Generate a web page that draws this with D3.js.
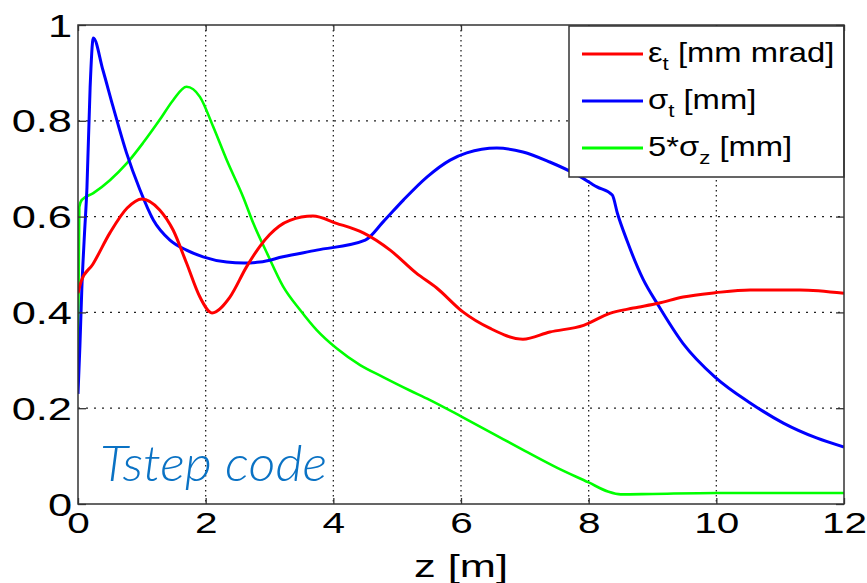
<!DOCTYPE html>
<html><head><meta charset="utf-8">
<script src="https://cdn.jsdelivr.net/npm/d3@7/dist/d3.min.js"></script>
<style>
html,body{margin:0;padding:0;background:#fff;}
svg{display:block;}
</style></head>
<body>
<svg id="chart" width="867" height="583"></svg>
<script>
// ---- data ----
const xTicks = [0, 2, 4, 6, 8, 10, 12];
const yTicks = [0, 0.2, 0.4, 0.6, 0.8, 1];
const yTickLabels = ["0", "0.2", "0.4", "0.6", "0.8", "1"];
const xTickLabels = ["0", "2", "4", "6", "8", "10", "12"];

const emitZ = [0, 0.05, 0.23, 0.5, 0.77, 1.0, 1.28, 1.49, 1.7, 1.91, 2.1, 2.38, 2.64, 2.85, 3.0, 3.15, 3.32, 3.68, 4.05, 4.47, 4.89, 5.3, 5.62, 6.03, 6.45, 6.97, 7.39, 7.92, 8.33, 8.7, 9.09, 9.48, 9.98, 10.53, 11.31, 12];
const emitVal = [0.44, 0.465, 0.5, 0.566, 0.618, 0.637, 0.614, 0.572, 0.503, 0.432, 0.399, 0.432, 0.495, 0.538, 0.562, 0.58, 0.592, 0.601, 0.586, 0.566, 0.53, 0.482, 0.451, 0.401, 0.367, 0.344, 0.359, 0.373, 0.398, 0.409, 0.419, 0.432, 0.441, 0.447, 0.447, 0.44];

const sigtZ = [0, 0.03, 0.06, 0.1, 0.14, 0.19, 0.24, 0.39, 0.55, 0.76, 0.97, 1.18, 1.44, 1.7, 1.96, 2.33, 2.6, 2.85, 3.21, 3.74, 4.5, 4.78, 5.1, 5.47, 5.83, 6.09, 6.56, 6.97, 7.39, 7.82, 8.13, 8.37, 8.45, 8.6, 8.85, 9.09, 9.48, 9.98, 10.53, 11.05, 11.57, 12];
const sigtVal = [0.23, 0.33, 0.45, 0.56, 0.66, 0.87, 0.973, 0.906, 0.829, 0.733, 0.656, 0.593, 0.551, 0.53, 0.516, 0.505, 0.503, 0.505, 0.516, 0.53, 0.551, 0.589, 0.635, 0.683, 0.718, 0.733, 0.743, 0.735, 0.714, 0.687, 0.662, 0.645, 0.607, 0.55, 0.47, 0.415, 0.335, 0.265, 0.211, 0.169, 0.138, 0.119];

const sigzZ = [0, 0.02, 0.06, 0.24, 0.5, 0.77, 1.02, 1.28, 1.49, 1.7, 1.91, 2.12, 2.33, 2.59, 2.75, 2.96, 3.21, 3.48, 3.74, 4.05, 4.42, 4.78, 5.2, 5.5, 6.0, 6.5, 7.0, 7.5, 8.0, 8.3, 8.5, 9, 10, 11, 12];
const sigzVal = [0.31, 0.62, 0.635, 0.649, 0.676, 0.712, 0.754, 0.802, 0.843, 0.871, 0.85, 0.787, 0.718, 0.64, 0.585, 0.524, 0.455, 0.405, 0.363, 0.325, 0.29, 0.265, 0.237, 0.218, 0.183, 0.147, 0.111, 0.076, 0.045, 0.026, 0.02, 0.021, 0.023, 0.023, 0.023];

const seriesNames = ["ε", "σ", "5*σ"];
const seriesSubs = ["t", "t", "z"];
const seriesUnits = [" [mm mrad]", " [mm]", " [mm]"];
const seriesColors = ["#ff0000", "#0000ff", "#00ff00"];

// ---- layout ----
const svg = d3.select("#chart");
const L = 78, R = 844, T = 25, B = 504;
const x = d3.scaleLinear().domain([0, 12]).range([L, R]);
const y = d3.scaleLinear().domain([0, 1]).range([B, T]);
const FONT = "'Liberation Sans', Arial, Helvetica, sans-serif";

svg.append("rect").attr("width", 867).attr("height", 583).attr("fill", "#fff");

// grid
const grid = svg.append("g");
grid.selectAll(".vg").data(xTicks.slice(1, -1)).join("line")
  .attr("x1", d => x(d)).attr("x2", d => x(d)).attr("y1", T).attr("y2", B)
  .attr("stroke", "#222").attr("stroke-width", 1.3).attr("stroke-dasharray", "1.5,3.5");
grid.selectAll(".hg").data(yTicks.slice(1, -1)).join("line")
  .attr("x1", L).attr("x2", R).attr("y1", d => y(d)).attr("y2", d => y(d))
  .attr("stroke", "#222").attr("stroke-width", 1.3).attr("stroke-dasharray", "2,6");

// annotation
svg.append("text").attr("x", 100).attr("y", 481)
  .attr("font-family", "Lato, 'Open Sans', 'Liberation Sans', sans-serif")
  .attr("font-weight", 300).attr("font-style", "italic").attr("font-size", 50)
  .attr("fill", "#0a72c4").attr("textLength", 227).attr("lengthAdjust", "spacingAndGlyphs")
  .text("Tstep code");

// lines
const series = [
  {z: emitZ, v: emitVal, w: 3},
  {z: sigtZ, v: sigtVal, w: 3},
  {z: sigzZ, v: sigzVal, w: 2.6}
];
const line = d3.line().x(d => x(d[0])).y(d => y(d[1])).curve(d3.curveMonotoneX);
const clip = svg.append("clipPath").attr("id", "clip").append("rect")
  .attr("x", L).attr("y", T).attr("width", R - L).attr("height", B - T);
const lines = svg.append("g").attr("clip-path", "url(#clip)");
[2, 1, 0].forEach(i => {
  const s = series[i];
  lines.append("path").datum(s.z.map((z, k) => [z, s.v[k]]))
    .attr("fill", "none").attr("stroke", seriesColors[i]).attr("stroke-width", s.w)
    .attr("stroke-linejoin", "round").attr("d", line);
});

// axes (ticks inside, box)
const SX = 1.4, SXX = 1.35;
const gx = svg.append("g").attr("transform", `translate(0,${B})`)
  .call(d3.axisBottom(x).tickValues(xTicks).tickFormat((d, i) => xTickLabels[i]).tickSize(-6).tickSizeOuter(0));
gx.select(".domain").remove();
gx.selectAll("line").attr("stroke", "#333").attr("stroke-width", 1.3);
gx.selectAll("text").attr("font-family", FONT).attr("font-size", 30).attr("fill", "#000")
  .attr("y", 29).attr("dy", 0).attr("transform", `scale(${SXX},1)`);

const gy = svg.append("g").attr("transform", `translate(${L},0)`)
  .call(d3.axisLeft(y).tickValues(yTicks).tickFormat((d, i) => yTickLabels[i]).tickSize(-8).tickSizeOuter(0));
gy.select(".domain").remove();
gy.selectAll("line").attr("stroke", "#333").attr("stroke-width", 1.3);
gy.selectAll("text").attr("font-family", FONT).attr("font-size", 31).attr("fill", "#000")
  .attr("x", -6 / SX).attr("dy", "0.36em").attr("transform", `scale(${SX},1)`);

const gt = svg.append("g").attr("transform", `translate(0,${T})`)
  .call(d3.axisTop(x).tickValues(xTicks).tickFormat("").tickSize(-6).tickSizeOuter(0));
gt.select(".domain").remove();
gt.selectAll("line").attr("stroke", "#333").attr("stroke-width", 1.3);
const gr = svg.append("g").attr("transform", `translate(${R},0)`)
  .call(d3.axisRight(y).tickValues(yTicks).tickFormat("").tickSize(-8).tickSizeOuter(0));
gr.select(".domain").remove();
gr.selectAll("line").attr("stroke", "#333").attr("stroke-width", 1.3);

// legend
const lg = svg.append("g");
lg.append("rect").attr("x", 569).attr("y", 26).attr("width", R - 569).attr("height", 151)
  .attr("fill", "#fff").attr("stroke", "#333").attr("stroke-width", 1.5);
const rowsY = [54, 101, 148];
seriesNames.forEach((n, i) => {
  lg.append("line").attr("x1", 582).attr("x2", 643).attr("y1", rowsY[i]).attr("y2", rowsY[i])
    .attr("stroke", seriesColors[i]).attr("stroke-width", 3);
  const t = lg.append("text").attr("font-family", FONT).attr("font-size", 28).attr("fill", "#000")
    .attr("transform", `translate(648,${rowsY[i] + 8}) scale(1.17,1)`);
  t.append("tspan").text(n);
  t.append("tspan").attr("font-size", 19).attr("dy", 8).text(seriesSubs[i]);
  t.append("tspan").attr("dy", -8).text(seriesUnits[i]);
});

// box
svg.append("rect").attr("x", L).attr("y", T).attr("width", R - L).attr("height", B - T)
  .attr("fill", "none").attr("stroke", "#333").attr("stroke-width", 1.5);

// x axis title
svg.append("text").attr("font-family", FONT).attr("font-size", 31).attr("text-anchor", "middle")
  .attr("transform", `translate(${(L + R) / 2},577) scale(${SX},1)`).text("z [m]");
</script>
</body></html>
